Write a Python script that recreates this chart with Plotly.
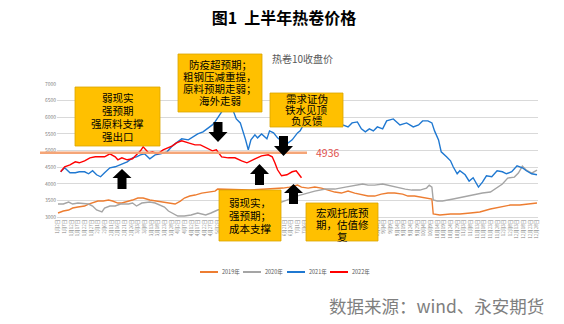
import pandas as pd
import plotly.graph_objects as go

# ---- hot-rolled coil (HC 10 contract) closing prices by season ----
DATES_2019 = ["01-02", "01-06", "01-10", "01-13", "01-17", "01-22", "01-25", "01-28", "02-01", "02-05",
              "02-09", "02-12", "02-16", "02-19", "02-22", "02-27", "03-03", "03-07", "03-12", "03-17",
              "03-22", "03-27", "03-31", "04-04", "04-07", "04-11", "04-15", "04-20", "04-25", "04-30",
              "05-02", "05-26", "06-20", "06-25", "07-01", "07-04", "07-09", "07-14", "07-19", "07-24",
              "07-29", "08-03", "08-08", "08-13", "08-19", "08-23", "08-28", "09-02", "09-07", "09-12",
              "09-18", "09-22", "09-27", "10-01", "10-06", "10-10", "10-11", "10-16", "10-24", "10-31",
              "11-08", "11-15", "11-23", "11-30", "12-08", "12-15", "12-23", "12-28"]
PRICE_2019 = [3120, 3180, 3210, 3270, 3300, 3330, 3390, 3420, 3480, 3480,
              3510, 3480, 3420, 3420, 3450, 3510, 3570, 3570, 3510, 3480,
              3450, 3420, 3390, 3480, 3570, 3630, 3660, 3720, 3750, 3780,
              3840, 3810, 3870, 3900, 3960, 3900, 3870, 3900, 3870, 3810,
              3750, 3720, 3780, 3720, 3660, 3630, 3630, 3690, 3720, 3720,
              3690, 3630, 3630, 3600, 3570, 3540, 3090, 3060, 3090, 3090,
              3120, 3150, 3240, 3300, 3360, 3360, 3390, 3420]

DATES_2020 = ["01-02", "01-06", "01-10", "01-13", "01-17", "01-22", "01-25", "01-28", "01-31", "02-04",
              "02-06", "02-10", "02-14", "02-18", "02-24", "02-27", "03-02", "03-06", "03-12", "03-16",
              "03-20", "03-23", "03-26", "03-29", "04-02", "04-07", "04-12", "04-17", "04-23", "04-27",
              "05-02", "05-11", "05-26", "06-10", "06-19", "06-23", "06-28", "07-03", "07-08", "07-14",
              "07-22", "07-29", "08-06", "08-13", "08-19", "08-23", "08-28", "09-03", "09-06", "09-10",
              "09-15", "09-20", "09-25", "10-01", "10-06", "10-08", "10-10", "10-11", "10-14", "10-18",
              "10-26", "11-02", "11-10", "11-17", "11-23", "11-28", "12-02", "12-06", "12-11", "12-14",
              "12-17", "12-20", "12-24", "12-28"]
PRICE_2020 = [3390, 3390, 3450, 3390, 3420, 3390, 3390, 3330, 3210, 3150,
              3270, 3330, 3330, 3390, 3390, 3420, 3330, 3420, 3450, 3420,
              3360, 3300, 3180, 3120, 3030, 3030, 3060, 3120, 3060, 3120,
              3210, 3300, 3390, 3420, 3450, 3510, 3600, 3660, 3720, 3780,
              3840, 3840, 3900, 3960, 3990, 3960, 3960, 3990, 3960, 3930,
              3870, 3840, 3810, 3810, 3870, 3960, 3900, 3510, 3480, 3480,
              3540, 3600, 3660, 3720, 3750, 3870, 3990, 4170, 4200, 4320,
              4530, 4410, 4320, 4410]

DATES_2021 = ["01-04", "01-07", "01-11", "01-15", "01-18", "01-22", "01-25", "01-28", "01-31", "02-03",
              "02-06", "02-10", "02-14", "02-19", "02-23", "02-27", "03-02", "03-05", "03-08", "03-12",
              "03-16", "03-20", "03-25", "03-29", "04-01", "04-05", "04-10", "04-14", "04-17", "04-21",
              "04-25", "04-28", "04-30", "05-02", "05-05", "05-08", "05-11", "05-13", "05-14", "05-16",
              "05-19", "05-21", "05-23", "05-25", "05-27", "05-30", "06-01", "06-04", "06-08", "06-10",
              "06-13", "06-16", "06-19", "06-23", "06-27", "07-01", "07-03", "07-05", "07-10", "07-18",
              "07-25", "08-04", "08-08", "08-11", "08-15", "08-18", "08-21", "08-24", "08-27", "08-30",
              "09-03", "09-06", "09-11", "09-16", "09-21", "09-26", "09-30", "10-03", "10-07", "10-10",
              "10-12", "10-15", "10-17", "10-21", "10-24", "10-26", "10-29", "10-31", "11-04", "11-07",
              "11-10", "11-14", "11-17", "11-20", "11-24", "11-28", "12-02", "12-05", "12-09", "12-13",
              "12-17", "12-20", "12-24", "12-28"]
PRICE_2021 = [4360, 4480, 4330, 4330, 4360, 4360, 4300, 4390, 4270, 4210,
              4330, 4480, 4510, 4600, 4660, 4780, 4810, 4870, 4900, 4750,
              4870, 4900, 4960, 5140, 5230, 5350, 5320, 5410, 5500, 5560,
              5680, 5770, 5860, 5980, 6130, 6340, 6580, 6520, 6160, 5950,
              5830, 5590, 5320, 5020, 5320, 5470, 5380, 5500, 5350, 5590,
              5530, 5380, 5290, 5200, 5320, 5530, 5590, 5740, 5920, 6070,
              6070, 5770, 5710, 5830, 5860, 5650, 5560, 5650, 5590, 5710,
              5650, 5890, 5950, 5770, 5830, 5710, 5770, 5890, 5890, 5830,
              5590, 5320, 4960, 4810, 4690, 4510, 4300, 4390, 4270, 4080,
              4180, 3900, 4050, 4240, 4210, 4390, 4360, 4300, 4360, 4540,
              4480, 4390, 4300, 4270]

DATES_2022 = ["01-04", "01-07", "01-11", "01-15", "01-18", "01-22", "01-26", "01-30", "02-03", "02-06",
              "02-10", "02-14", "02-16", "02-19", "02-23", "02-27", "03-02", "03-05", "03-07", "03-11",
              "03-14", "03-18", "03-22", "03-26", "03-29", "04-01", "04-05", "04-10", "04-15", "04-19",
              "04-22", "04-28", "05-01", "05-05", "05-10", "05-15", "05-20", "05-24", "05-30", "06-04",
              "06-09", "06-12", "06-14", "06-16", "06-19", "06-23", "06-27", "06-30", "07-04"]
PRICE_2022 = [4360, 4510, 4570, 4660, 4630, 4690, 4780, 4810, 4810, 4810,
              4900, 4810, 4720, 4780, 4720, 4750, 4870, 4990, 5110, 4930,
              4960, 4900, 5020, 5080, 5140, 5230, 5290, 5230, 5170, 5170,
              5110, 4990, 5020, 4810, 4780, 4780, 4690, 4630, 4750, 4840,
              4870, 4810, 4630, 4420, 4240, 4270, 4360, 4390, 4180]

SERIES = [
    ("2019年", DATES_2019, PRICE_2019, "#ED7D31"),
    ("2020年", DATES_2020, PRICE_2020, "#A5A5A5"),
    ("2021年", DATES_2021, PRICE_2021, "#1F78D1"),
    ("2022年", DATES_2022, PRICE_2022, "#FF0000"),
]

REF_PRICE = 4936
Y_TICKS = [3000, 3500, 4000, 4500, 5000, 5500, 6000, 6500, 7000]
TICK_DATES = pd.date_range("2021-01-02", "2021-12-28", freq="5D")
TICK_LABELS = [f"{d.month}月{d.day}日" for d in TICK_DATES]

NOTES = [
    # (left, top, right, bottom, lines, line centres) in page pixels
    (75, 87, 160, 146, ["弱现实", "强预期", "强原料支撑", "强出口"], [97, 110.5, 123.5, 136.5]),
    (178, 54, 262, 112, ["防疫超预期；", "粗钢压减重提，", "原料预期走弱；", "海外走弱"], [64.5, 76.5, 88.5, 100.5]),
    (270, 93, 343, 127, ["需求证伪", "铁水见顶", "负反馈"], [98.5, 109.5, 120.5]),
    (219, 190, 281, 241, ["弱现实，", "强预期；", "成本支撑"], [202, 215, 228]),
    (306, 203, 378, 241, ["宏观托底预", "期，估值修", "复"], [212, 224.5, 236]),
]
ARROWS = [
    # (centre x, shaft end y, head base y, tip y)
    (122, 189, 178, 169),
    (218, 122, 132, 142),
    (283.5, 136, 146, 156),
    (259.5, 185, 174, 164),
    (293.5, 204, 193, 184),
]
LEGEND_X = [200, 243, 287, 330]   # left end of each key line
LEGEND_Y = 272

W, H = 564, 324
ML, MR, MT, MB = 57, 26, 84, 107
PW, PH = W - ML - MR, H - MT - MB
FONT = "Noto Sans CJK SC"


def px(x):
    return (x - ML) / PW


def py(y):
    return (H - MB - y) / PH


def doy(md):
    return pd.Timestamp("2021-" + md).dayofyear


fig = go.Figure()
for name, dates, prices, color in SERIES:
    fig.add_trace(go.Scatter(
        x=[doy(d) for d in dates], y=prices, name=name, mode="lines",
        line=dict(color=color, width=1.4), showlegend=False,
    ))

shapes = [dict(type="line", xref="paper", yref="y", x0=px(40), x1=px(307),
               y0=REF_PRICE, y1=REF_PRICE, line=dict(color="rgba(244,160,112,0.95)", width=2.5),
               layer="above")]
annotations = [dict(xref="paper", yref="y", x=px(327.5), y=REF_PRICE, text=str(REF_PRICE),
                    showarrow=False, font=dict(size=10.5, color="#E0504D", family=FONT))]

for x0, y0, x1, y1, lines, ys in NOTES:
    shapes.append(dict(type="rect", xref="paper", yref="paper", x0=px(x0), x1=px(x1),
                       y0=py(y1), y1=py(y0), fillcolor="#FFC000",
                       line=dict(color="#D9A400", width=0.8), layer="above"))
    cx = (x0 + x1) / 2
    for txt, yy in zip(lines, ys):
        annotations.append(dict(xref="paper", yref="paper", x=px(cx), y=py(yy), text=txt,
                                showarrow=False, xanchor="center", yanchor="middle",
                                font=dict(size=10.5, color="black", family=FONT)))

HW, SW = 9.5, 4.5
for cx, tail, base, tip in ARROWS:
    pts = [(cx, tip), (cx + HW, base), (cx + SW, base), (cx + SW, tail),
           (cx - SW, tail), (cx - SW, base), (cx - HW, base)]
    path = "M" + " L".join(f"{px(a):.5f},{py(b):.5f}" for a, b in pts) + " Z"
    shapes.append(dict(type="path", xref="paper", yref="paper", path=path,
                       fillcolor="black", line=dict(width=0), layer="above"))

# series key below the axis
for (name, _, _, color), lx in zip(SERIES, LEGEND_X):
    shapes.append(dict(type="line", xref="paper", yref="paper", x0=px(lx), x1=px(lx + 18),
                       y0=py(LEGEND_Y), y1=py(LEGEND_Y), line=dict(color=color, width=2)))
    annotations.append(dict(xref="paper", yref="paper", x=px(lx + 20), y=py(LEGEND_Y), text=name,
                            showarrow=False, xanchor="left", yanchor="middle",
                            font=dict(size=5.5, color="#595959", family=FONT)))

annotations.append(dict(xref="paper", yref="paper", x=px(302), y=py(59), text="热卷10收盘价",
                        showarrow=False, xanchor="center", yanchor="middle",
                        font=dict(size=10, color="#595959", family=FONT)))
annotations.append(dict(xref="paper", yref="paper", x=px(546), y=py(305), text="数据来源：wind、永安期货",
                        showarrow=False, xanchor="right", yanchor="middle",
                        font=dict(size=17.5, color="#7F7F7F", family=FONT)))

fig.update_layout(
    width=W, height=H, margin=dict(l=ML, r=MR, t=MT, b=MB),
    paper_bgcolor="white", plot_bgcolor="white",
    font=dict(family=FONT, color="#595959"),
    title=dict(text="<b>图1\u00a0\u00a0上半年热卷价格</b>", x=284 / W, xanchor="center",
               y=1 - 18 / H, yanchor="middle", font=dict(size=16, color="black", family=FONT)),
    showlegend=False,
    shapes=shapes, annotations=annotations,
)
fig.update_xaxes(range=[1.25, 362.75], tickmode="array", tickvals=[d.dayofyear for d in TICK_DATES],
                 ticktext=TICK_LABELS, tickangle=-90, tickfont=dict(size=4.5, color="#7F7F7F"),
                 showgrid=False, zeroline=False, showline=True, linecolor="#D9D9D9", ticks="")
fig.update_yaxes(range=[3000, 7000], tickmode="array", tickvals=Y_TICKS,
                 tickfont=dict(size=5, color="#7F7F7F"), showgrid=True, gridcolor="#D9D9D9",
                 gridwidth=1, zeroline=False, ticks="", showline=False)

fig.write_html("out.html")
